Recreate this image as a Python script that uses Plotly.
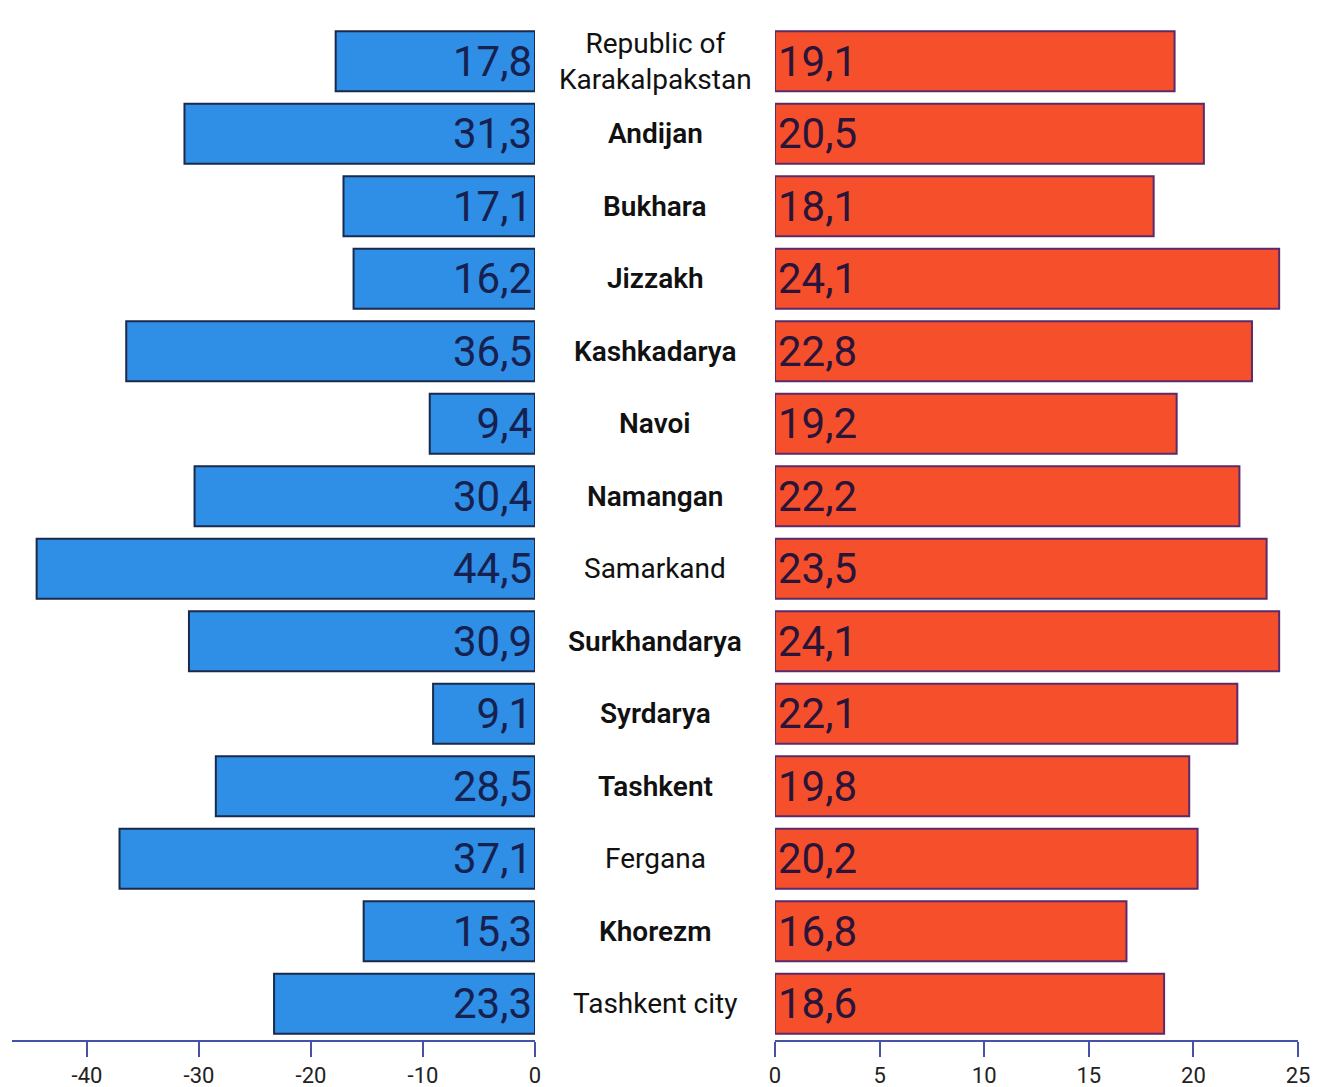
import plotly.graph_objects as go

regions = ["Republic of<br>Karakalpakstan", "Andijan", "Bukhara", "Jizzakh", "Kashkadarya",
           "Navoi", "Namangan", "Samarkand", "Surkhandarya", "Syrdarya", "Tashkent",
           "Fergana", "Khorezm", "Tashkent city"]
bold_label = [False, True, True, True, True, True, True, False, True, True, True, False, True, False]
left_values = [17.8, 31.3, 17.1, 16.2, 36.5, 9.4, 30.4, 44.5, 30.9, 9.1, 28.5, 37.1, 15.3, 23.3]
right_values = [19.1, 20.5, 18.1, 24.1, 22.8, 19.2, 22.2, 23.5, 24.1, 22.1, 19.8, 20.2, 16.8, 18.6]
left_ticks = [-40, -30, -20, -10, 0]
right_ticks = [0, 5, 10, 15, 20, 25]

W, H = 1323, 1087
FONT_N = "Roboto, Liberation Sans, sans-serif"

def fmt(v):
    return f"{v:.1f}".replace(".", ",")

idx = list(range(len(regions)))

fig = go.Figure()
fig.add_trace(go.Bar(
    x=[-v for v in left_values], y=idx, orientation="h",
    marker=dict(color="#2f8ee5", line=dict(color="#1b2a4a", width=2)),
    width=0.83,
    text=[fmt(v) for v in left_values], textposition="inside", insidetextanchor="start",
    textfont=dict(family=FONT_N, size=42, color="#16214f"),
    xaxis="x", yaxis="y", showlegend=False,
))
fig.add_trace(go.Bar(
    x=right_values, y=idx, orientation="h",
    marker=dict(color="#f64f2c", line=dict(color="#5b2a6b", width=2)),
    width=0.83,
    text=[fmt(v) for v in right_values], textposition="inside", insidetextanchor="start",
    textfont=dict(family=FONT_N, size=42, color="#2a1538"),
    xaxis="x2", yaxis="y", showlegend=False,
))

for i, (name, b) in enumerate(zip(regions, bold_label)):
    fig.add_annotation(
        x=655 / W, xref="paper", y=i, yref="y",
        text=name,
        showarrow=False, xanchor="center", yanchor="middle",
        font=dict(family=FONT_N, size=28, color="#111111", weight=(600 if b else 400)),
    )

y0 = (H - 1040) / H
y1 = (H - 25) / H
axis_common = dict(
    showgrid=False, zeroline=False, showline=True, linecolor="#4652a8", linewidth=2,
    ticks="outside", ticklen=15, tickwidth=2, tickcolor="#4652a8",
    tickfont=dict(family=FONT_N, size=22, color="#222222"),
    fixedrange=True, automargin=False,
)
fig.update_layout(
    width=W, height=H, margin=dict(l=0, r=0, t=0, b=0, pad=0, autoexpand=False),
    paper_bgcolor="white", plot_bgcolor="white",
    xaxis=dict(domain=[12 / W, 535 / W], range=[-46.7, 0], tickvals=left_ticks,
               ticktext=[str(t) for t in left_ticks], anchor="y", **axis_common),
    xaxis2=dict(domain=[775 / W, 1298 / W], range=[0, 25], tickvals=right_ticks,
                ticktext=[str(t) for t in right_ticks], anchor="y", **axis_common),
    yaxis=dict(domain=[y0, y1], range=[13.5, -0.5], visible=False, fixedrange=True,
               automargin=False),
)

fig.write_html("out.html", config={"displayModeBar": False},
               post_script="document.body.style.margin='0';document.body.style.overflow='hidden';")
